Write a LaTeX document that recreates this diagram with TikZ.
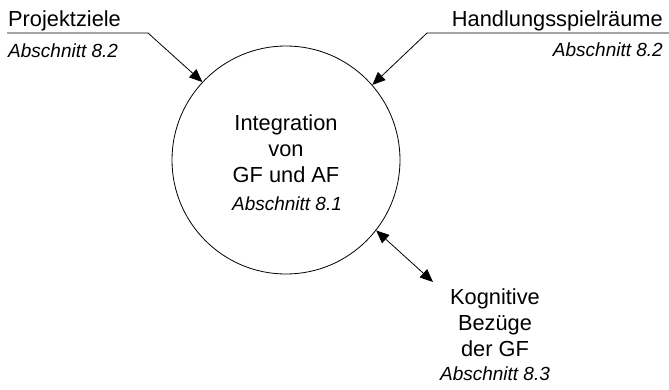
\documentclass[tikz,border=0pt]{standalone}
\usepackage{fontspec}
\setmainfont{Liberation Sans}
\usepackage{tikz}
\usetikzlibrary{arrows.meta}

\tikzset{
    pfeil/.style={-{Triangle[length=13pt,width=11pt]}, line width=0.8pt},
    doppelpfeil/.style={{Triangle[length=13pt,width=11pt]}-{Triangle[length=13pt,width=11pt]}, line width=0.8pt},
    titel/.style={font=\fontsize{21.8}{26}\selectfont, inner sep=0pt},
    verweis/.style={font=\fontsize{19}{24}\selectfont\itshape, inner sep=0pt},
    kreis/.style={draw, circle, line width=0.8pt, minimum size=228pt, inner sep=0pt}
}

\begin{document}
\begin{tikzpicture}[x=1pt, y=-1pt]
    \useasboundingbox (0,0) rectangle (669,389);

    % The central process
    \node[kreis] (integ) at (286,160) {};
    \node[titel, align=center, anchor=base] (integtext) at (286,182) {Integration\\von\\GF und AF};
    \node[verweis, anchor=base] (integref) at (287,210) {Abschnitt 8.1};

    % Input on the left
    \node[titel, anchor=base west] (ziele) at (8,26) {Projektziele};
    \node[verweis, anchor=base west] (zieleref) at (8,57) {Abschnitt 8.2};
    \coordinate (zielanfang) at (7,33);
    \coordinate (zielknick) at (148,33);
    \draw[pfeil] (zielanfang) -- (zielknick) -- (integ.137);

    % Input on the right
    \node[titel, anchor=base east] (spiel) at (663,26) {Handlungsspielräume};
    \node[verweis, anchor=base east] (spielref) at (663,56) {Abschnitt 8.2};
    \coordinate (spielanfang) at (669,33);
    \coordinate (spielknick) at (427,33);
    \draw[pfeil] (spielanfang) -- (spielknick) -- (integ.41);

    % Exchange at the bottom
    \coordinate (kognpunkt) at (433,282);
    \node[titel, align=center, anchor=base] (kogn) at (495,356) {Kognitive\\Bezüge\\der GF};
    \node[verweis, anchor=base] (kognref) at (495,380) {Abschnitt 8.3};
    \draw[doppelpfeil] (integ.-38) -- (kognpunkt);

\end{tikzpicture}
\end{document}
